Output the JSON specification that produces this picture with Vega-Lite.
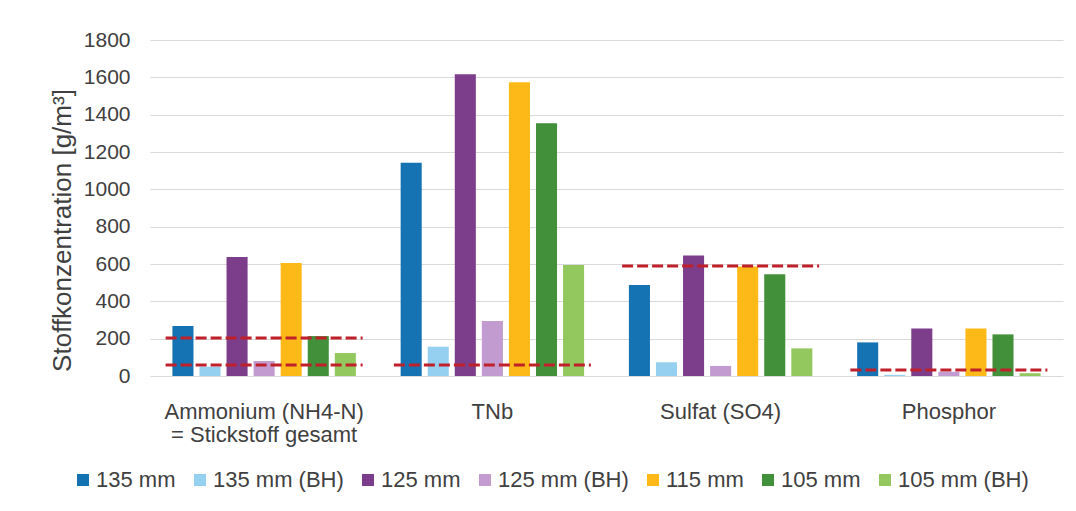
{
  "$schema": "https://vega.github.io/schema/vega-lite/v6.json",
  "width": 913,
  "height": 336,
  "autosize": {"type": "none"},
  "padding": {"left": 150, "top": 40, "right": 13, "bottom": 135},
  "background": "white",
  "config": {
    "font": "Liberation Sans",
    "view": {"stroke": null},
    "axis": {"labelColor": "#404040", "titleColor": "#404040"},
    "axisX": {
      "ticks": false,
      "domain": false,
      "grid": false,
      "labelAngle": 0,
      "labelFontSize": 22,
      "labelPadding": 25,
      "labelLineHeight": 23,
      "labelLimit": 400,
      "labelOverlap": false
    },
    "axisY": {
      "ticks": false,
      "domain": false,
      "labelOverlap": false,
      "labelFontSize": 21,
      "labelPadding": 20,
      "gridColor": "#d9d9d9",
      "gridWidth": 1,
      "titleFontSize": 26,
      "titleFontWeight": "normal",
      "titlePadding": 8
    }
  },
  "datasets": {
    "werte": [
      {"Parameter": "Ammonium (NH4-N)", "Serie": "135 mm", "Wert": 268},
      {"Parameter": "Ammonium (NH4-N)", "Serie": "135 mm (BH)", "Wert": 50},
      {"Parameter": "Ammonium (NH4-N)", "Serie": "125 mm", "Wert": 638},
      {"Parameter": "Ammonium (NH4-N)", "Serie": "125 mm (BH)", "Wert": 80},
      {"Parameter": "Ammonium (NH4-N)", "Serie": "115 mm", "Wert": 605},
      {"Parameter": "Ammonium (NH4-N)", "Serie": "105 mm", "Wert": 214},
      {"Parameter": "Ammonium (NH4-N)", "Serie": "105 mm (BH)", "Wert": 123},
      {"Parameter": "TNb", "Serie": "135 mm", "Wert": 1143},
      {"Parameter": "TNb", "Serie": "135 mm (BH)", "Wert": 157},
      {"Parameter": "TNb", "Serie": "125 mm", "Wert": 1616},
      {"Parameter": "TNb", "Serie": "125 mm (BH)", "Wert": 295},
      {"Parameter": "TNb", "Serie": "115 mm", "Wert": 1573},
      {"Parameter": "TNb", "Serie": "105 mm", "Wert": 1354},
      {"Parameter": "TNb", "Serie": "105 mm (BH)", "Wert": 595},
      {"Parameter": "Sulfat (SO4)", "Serie": "135 mm", "Wert": 487},
      {"Parameter": "Sulfat (SO4)", "Serie": "135 mm (BH)", "Wert": 73},
      {"Parameter": "Sulfat (SO4)", "Serie": "125 mm", "Wert": 645},
      {"Parameter": "Sulfat (SO4)", "Serie": "125 mm (BH)", "Wert": 54},
      {"Parameter": "Sulfat (SO4)", "Serie": "115 mm", "Wert": 586},
      {"Parameter": "Sulfat (SO4)", "Serie": "105 mm", "Wert": 545},
      {"Parameter": "Sulfat (SO4)", "Serie": "105 mm (BH)", "Wert": 148},
      {"Parameter": "Phosphor", "Serie": "135 mm", "Wert": 180},
      {"Parameter": "Phosphor", "Serie": "135 mm (BH)", "Wert": 6},
      {"Parameter": "Phosphor", "Serie": "125 mm", "Wert": 255},
      {"Parameter": "Phosphor", "Serie": "125 mm (BH)", "Wert": 23},
      {"Parameter": "Phosphor", "Serie": "115 mm", "Wert": 255},
      {"Parameter": "Phosphor", "Serie": "105 mm", "Wert": 223},
      {"Parameter": "Phosphor", "Serie": "105 mm (BH)", "Wert": 15}
    ],
    "grenzwerte": [
      {"Parameter": "Ammonium (NH4-N)", "Grenzwert": 204},
      {"Parameter": "Ammonium (NH4-N)", "Grenzwert": 59},
      {"Parameter": "TNb", "Grenzwert": 59},
      {"Parameter": "Sulfat (SO4)", "Grenzwert": 589},
      {"Parameter": "Phosphor", "Grenzwert": 32}
    ]
  },
  "layer": [
    {
      "data": {"name": "werte"},
      "mark": {"type": "bar"},
      "encoding": {
        "x": {
          "field": "Parameter",
          "type": "nominal",
          "sort": ["Ammonium (NH4-N)", "TNb", "Sulfat (SO4)", "Phosphor"],
          "scale": {"paddingInner": 0.17, "paddingOuter": 0.085},
          "title": null,
          "axis": {
            "labelExpr": "datum.value === 'Ammonium (NH4-N)' ? ['Ammonium (NH4-N)', '= Stickstoff gesamt'] : datum.label"
          }
        },
        "xOffset": {
          "field": "Serie",
          "type": "nominal",
          "sort": ["135 mm", "135 mm (BH)", "125 mm", "125 mm (BH)", "115 mm", "105 mm", "105 mm (BH)"],
          "scale": {"paddingInner": 0.222, "paddingOuter": 0.111}
        },
        "y": {
          "field": "Wert",
          "type": "quantitative",
          "scale": {"domain": [0, 1800], "nice": false},
          "title": "Stoffkonzentration [g/m³]",
          "axis": {
            "values": [0, 200, 400, 600, 800, 1000, 1200, 1400, 1600, 1800],
            "format": "d",
            "titleY": 190
          }
        },
        "color": {
          "field": "Serie",
          "type": "nominal",
          "scale": {
            "domain": ["135 mm", "135 mm (BH)", "125 mm", "125 mm (BH)", "115 mm", "105 mm", "105 mm (BH)"],
            "range": ["#1572b3", "#96d0f0", "#7c3d8b", "#c29bd0", "#fdb918", "#43903a", "#93c85e"]
          },
          "legend": {
            "title": null,
            "orient": "none",
            "legendX": -78,
            "legendY": 429,
            "direction": "horizontal",
            "symbolType": "square",
            "symbolSize": 144,
            "symbolStrokeWidth": 0,
            "labelFontSize": 22,
            "labelColor": "#404040",
            "labelLimit": 300,
            "labelOffset": 2,
            "columnPadding": 13
          }
        }
      }
    },
    {
      "data": {"name": "grenzwerte"},
      "mark": {"type": "rule", "strokeDash": [11, 4], "strokeWidth": 3, "color": "#c0202a"},
      "encoding": {
        "x": {
          "field": "Parameter",
          "type": "nominal",
          "sort": ["Ammonium (NH4-N)", "TNb", "Sulfat (SO4)", "Phosphor"],
          "bandPosition": -0.02,
          "title": null,
          "axis": {
            "labelExpr": "datum.value === 'Ammonium (NH4-N)' ? ['Ammonium (NH4-N)', '= Stickstoff gesamt'] : datum.label"
          }
        },
        "x2": {"field": "Parameter", "bandPosition": 1.02},
        "y": {
          "field": "Grenzwert",
          "type": "quantitative",
          "title": "Stoffkonzentration [g/m³]",
          "axis": {
            "values": [0, 200, 400, 600, 800, 1000, 1200, 1400, 1600, 1800],
            "format": "d",
            "titleY": 190
          }
        }
      }
    }
  ]
}
